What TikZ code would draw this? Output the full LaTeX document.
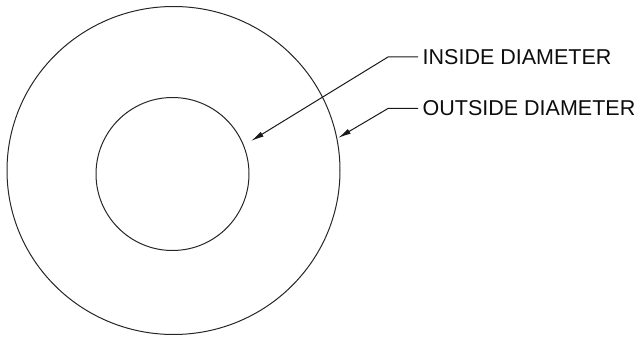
\documentclass[tikz,border=0pt]{standalone}
\usepackage{fontspec}
\setmainfont{Liberation Sans}
\usepackage{tikz}
\usetikzlibrary{arrows.meta,positioning,calc}

\begin{document}
\begin{tikzpicture}[x=1pt,y=-1pt,>={Latex[length=13pt,width=5.5pt]},
  ring/.style={draw=black!85,line width=1pt},
  lead/.style={draw=black!90,line width=1pt},
  lab/.style={font=\fontsize{21.5}{25}\selectfont,text=black!95,anchor=west,inner xsep=4.5pt,inner ysep=0pt}]
  \useasboundingbox (0,0) rectangle (638,342);

  % ---------- circles ----------
  \draw[ring] (173.5,170.5) coordinate (outc) ellipse [x radius=166.5,y radius=164];
  \draw[ring] (172.5,174) coordinate (inc) circle [radius=76.5];

  % ---------- labels ----------
  \node[lab] (idlab) at (418,57) {INSIDE DIAMETER};
  \node[lab] (odlab) at (418,108.5) {OUTSIDE DIAMETER};

  % ---------- leaders ----------
  \coordinate (idknee) at (388,57);
  \coordinate (idtip) at (251,141);
  \coordinate (odknee) at (388,108.5);
  \coordinate (odtip) at (338,138);
  \draw[lead,->] (idlab.west) -- (idknee) -- (idtip);
  \draw[lead,->] (odlab.west) -- (odknee) -- (odtip);
\end{tikzpicture}
\end{document}
